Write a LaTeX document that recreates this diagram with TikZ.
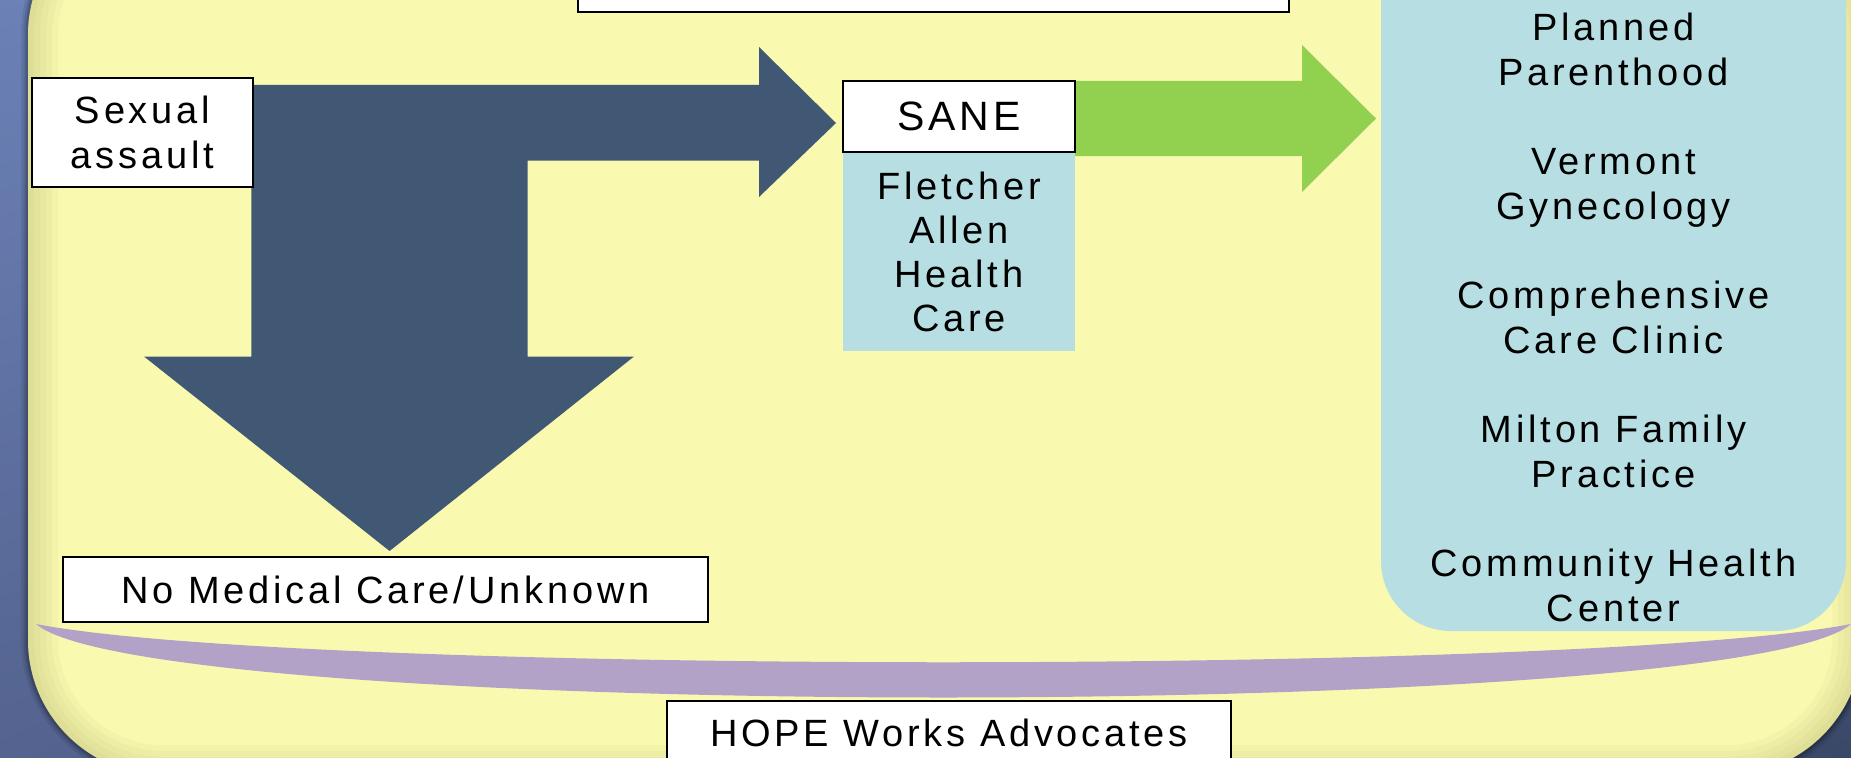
\documentclass[tikz,border=0pt]{standalone}
\usepackage{fontspec}
\usetikzlibrary{shadings}
\setmainfont{Liberation Sans}[LetterSpace=10]
\definecolor{panelyellow}{HTML}{F9F9B0}
\definecolor{navyarrow}{HTML}{415875}
\definecolor{leafgreen}{HTML}{92D050}
\definecolor{paleaqua}{HTML}{B7DFE3}
\definecolor{lilac}{HTML}{B2A2C7}
\definecolor{edgeolive}{HTML}{9A9A55}
\definecolor{bgtl}{HTML}{6B81B7}
\definecolor{bgbl}{HTML}{54638F}
\definecolor{bgtr}{HTML}{5A6EA2}
\definecolor{bgbr}{HTML}{3A4868}
\begin{document}
\begin{tikzpicture}[x=1pt,y=-1pt,
  txt/.style={font=\fontsize{38}{45}\selectfont, text=black, align=center},
  whitebox/.style={txt, draw=black, line width=1.8pt, fill=white, inner sep=0pt},
  panel/.style={rounded corners=135pt},
]
\useasboundingbox (0,0) rectangle (1851,757);
% slide background
\shade[upper left=bgtl, lower left=bgbl, upper right=bgtr, lower right=bgbr] (0,0) rectangle (1851,757);
% soft shadow around the panel
\foreach \w/\o in {14/0.08, 9/0.1, 5/0.15}
  \draw[line width=\w pt, draw=black, opacity=\o, panel] (28,-100) rectangle (1862,775);
% yellow panel with an inner edge shade
\fill[panelyellow, panel] (28,-100) rectangle (1862,775);
\begin{scope}
  \clip[panel] (28,-100) rectangle (1862,775);
  \foreach \w in {60,48,36,24,12}
    \draw[line width=\w pt, edgeolive, opacity=0.06, panel] (28,-100) rectangle (1862,775);
\end{scope}

% bent block arrow out of the assault box
\fill[navyarrow] (251.4,85) -- (759,85) -- (759,47) -- (836,123) -- (759,197)
  -- (759,160.5) -- (527.7,160.5) -- (527.7,356.5) -- (634,356.5) -- (389.6,551)
  -- (144,356.5) -- (251.4,356.5) -- cycle;
% block arrow from SANE to the clinics
\fill[leafgreen] (1075,81) -- (1302,81) -- (1302,45) -- (1376,118.5) -- (1302,192)
  -- (1302,156) -- (1075,156) -- cycle;

% boxes
\node[whitebox, minimum width=711pt, minimum height=112pt] (topbox) at (933.5,-44) {};
\node[whitebox, minimum width=221pt, minimum height=109pt] (assault) at (142.5,132.5) {Sexual\\assault};
\node[txt, fill=paleaqua, minimum width=232pt, minimum height=199pt, inner sep=0pt,
  font=\fontsize{38}{44}\selectfont] (fletcher) at (959,251.5) {Fletcher\\Allen\\Health\\Care};
\node[whitebox, minimum width=232pt, minimum height=71pt, font=\fontsize{41}{45}\selectfont] (sane) at (959,116.5) {SANE};
\node[fill=paleaqua, rounded corners=70pt, minimum width=465pt, minimum height=731pt, inner sep=0pt] (clinics) at (1613.5,265.5) {};
\node[txt] (cliniclist) at (1613.5,317.5) {Planned\\Parenthood\\[44pt]Vermont\\Gynecology\\[44pt]Comprehensive\\Care Clinic\\[44pt]Milton Family\\Practice\\[44pt]Community Health\\Center};
\node[whitebox, minimum width=645pt, minimum height=65pt] (nomed) at (385.5,589.5) {No Medical Care/Unknown};

% advocates band
\fill[lilac] (36,624) .. controls (300,675) and (1587,675) .. (1851,624)
  .. controls (1737,722) and (150,722) .. (36,624) -- cycle;
\node[whitebox, minimum width=564pt, minimum height=64pt] (hope) at (949,733) {HOPE Works Advocates};
\end{tikzpicture}
\end{document}
